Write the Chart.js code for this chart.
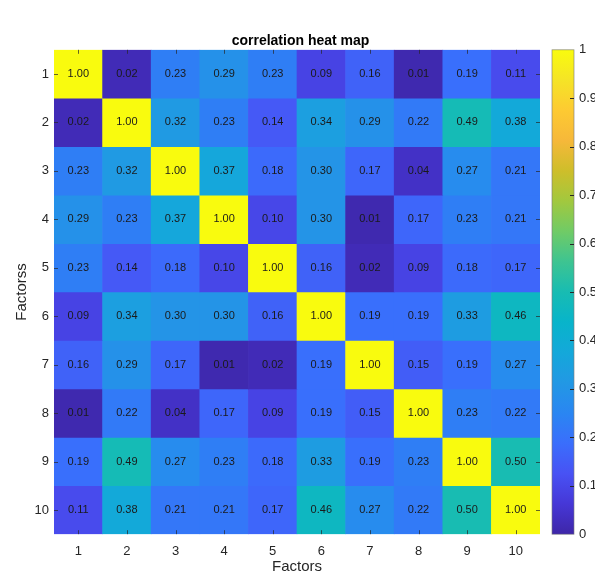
<!DOCTYPE html>
<html>
<head>
<meta charset="utf-8">
<title>correlation heat map</title>
<script src="https://cdn.jsdelivr.net/npm/chart.js@4.4.1/dist/chart.umd.min.js"></script>
<style>
  body { margin: 0; background: #fff; }
  #heat { display: block; }
</style>
</head>
<body>
<canvas id="heat" width="595" height="581"></canvas>
<script>
// factor names (both axes)
const factors = ['1', '2', '3', '4', '5', '6', '7', '8', '9', '10'];
const rowTicks = [1, 2, 3, 4, 5, 6, 7, 8, 9, 10];

// correlation values, one array per row
const row1  = [1.00, 0.02, 0.23, 0.29, 0.23, 0.09, 0.16, 0.01, 0.19, 0.11];
const row2  = [0.02, 1.00, 0.32, 0.23, 0.14, 0.34, 0.29, 0.22, 0.49, 0.38];
const row3  = [0.23, 0.32, 1.00, 0.37, 0.18, 0.30, 0.17, 0.04, 0.27, 0.21];
const row4  = [0.29, 0.23, 0.37, 1.00, 0.10, 0.30, 0.01, 0.17, 0.23, 0.21];
const row5  = [0.23, 0.14, 0.18, 0.10, 1.00, 0.16, 0.02, 0.09, 0.18, 0.17];
const row6  = [0.09, 0.34, 0.30, 0.30, 0.16, 1.00, 0.19, 0.19, 0.33, 0.46];
const row7  = [0.16, 0.29, 0.17, 0.01, 0.02, 0.19, 1.00, 0.15, 0.19, 0.27];
const row8  = [0.01, 0.22, 0.04, 0.17, 0.09, 0.19, 0.15, 1.00, 0.23, 0.22];
const row9  = [0.19, 0.49, 0.27, 0.23, 0.18, 0.33, 0.19, 0.23, 1.00, 0.50];
const row10 = [0.11, 0.38, 0.21, 0.21, 0.17, 0.46, 0.27, 0.22, 0.50, 1.00];
const rows = [row1, row2, row3, row4, row5, row6, row7, row8, row9, row10];

// colour bar range
const colorMin = 0;
const colorMax = 1;

// parula-like colour map stops
const parulaStops = [
  [0.000, [62, 38, 168]],
  [0.063, [70, 55, 215]],
  [0.125, [72, 82, 244]],
  [0.188, [58, 110, 252]],
  [0.250, [42, 134, 242]],
  [0.313, [34, 152, 228]],
  [0.375, [20, 168, 218]],
  [0.438, [8, 180, 202]],
  [0.500, [24, 188, 178]],
  [0.563, [62, 196, 145]],
  [0.625, [112, 203, 102]],
  [0.688, [162, 200, 62]],
  [0.750, [206, 190, 42]],
  [0.813, [246, 184, 58]],
  [0.875, [253, 202, 50]],
  [0.938, [245, 228, 38]],
  [1.000, [249, 251, 14]]
];

function parula(v) {
  let t = (v - colorMin) / (colorMax - colorMin);
  t = Math.max(0, Math.min(1, t));
  for (let i = 1; i < parulaStops.length; i++) {
    const a = parulaStops[i - 1], b = parulaStops[i];
    if (t <= b[0]) {
      const f = (t - a[0]) / (b[0] - a[0]);
      const c = a[1].map((x, k) => Math.round(x + (b[1][k] - x) * f));
      return 'rgb(' + c.join(',') + ')';
    }
  }
  return 'rgb(249,251,14)';
}

const axisColor = '#262626';
const fontFamily = 'Helvetica, "Liberation Sans", Arial, sans-serif';

// each row is a dataset of floating bars spanning one cell
const datasets = rows.map((vals, i) => ({
  label: 'row ' + factors[i],
  data: vals.map(() => [rowTicks[i] - 0.5, rowTicks[i] + 0.5]),
  values: vals,
  backgroundColor: vals.map(v => parula(v)),
  borderWidth: 0
}));

// cell numbers, inward tick marks and the colour bar
const heatExtras = {
  id: 'heatExtras',
  afterDatasetsDraw(chart) {
    const ctx = chart.ctx;
    const area = chart.chartArea;
    ctx.save();
    ctx.font = '11px ' + fontFamily;
    ctx.fillStyle = '#1a1a1a';
    ctx.textAlign = 'center';
    ctx.textBaseline = 'middle';
    chart.data.datasets.forEach((ds, i) => {
      const meta = chart.getDatasetMeta(i);
      meta.data.forEach((el, j) => {
        const cy = (el.y + el.base) / 2;
        ctx.fillText(ds.values[j].toFixed(2), el.x, cy);
      });
    });

    // inward tick marks on the heat map
    ctx.strokeStyle = 'rgba(38,38,38,0.7)';
    ctx.lineWidth = 1;
    const xs = chart.scales.x, ys = chart.scales.y;
    ctx.beginPath();
    xs.ticks.forEach((t, k) => {
      const px = Math.round(xs.getPixelForTick(k)) + 0.5;
      ctx.moveTo(px, area.top); ctx.lineTo(px, area.top + 4);
      ctx.moveTo(px, area.bottom); ctx.lineTo(px, area.bottom - 4);
    });
    ys.ticks.forEach(t => {
      const py = Math.round(ys.getPixelForValue(t.value)) + 0.5;
      ctx.moveTo(area.left, py); ctx.lineTo(area.left + 4, py);
      ctx.moveTo(area.right, py); ctx.lineTo(area.right - 4, py);
    });
    ctx.stroke();

    // colour bar
    const cb = chart.scales.cb;
    const x0 = area.right + 12;
    const w = 22;
    const yTop = cb.getPixelForValue(colorMax);
    const yBot = cb.getPixelForValue(colorMin);
    const grad = ctx.createLinearGradient(0, yBot, 0, yTop);
    parulaStops.forEach(s => grad.addColorStop(s[0], 'rgb(' + s[1].join(',') + ')'));
    ctx.fillStyle = grad;
    ctx.fillRect(x0, yTop, w, yBot - yTop);
    ctx.strokeStyle = 'rgba(120,120,120,0.8)';
    ctx.lineWidth = 0.75;
    ctx.strokeRect(x0, yTop, w, yBot - yTop);
    ctx.strokeStyle = axisColor;
    ctx.lineWidth = 1;
    ctx.beginPath();
    cb.ticks.forEach(t => {
      if (t.value <= colorMin || t.value >= colorMax) return;
      const py = Math.round(cb.getPixelForValue(t.value)) + 0.5;
      ctx.moveTo(x0 + w - 4, py); ctx.lineTo(x0 + w, py);
    });
    ctx.stroke();
    ctx.restore();
  }
};

new Chart(document.getElementById('heat'), {
  type: 'bar',
  data: {
    labels: factors,
    datasets: datasets
  },
  options: {
    responsive: false,
    animation: false,
    devicePixelRatio: 1,
    datasets: {
      bar: {
        grouped: false,
        categoryPercentage: 1,
        barPercentage: 1
      }
    },
    layout: {
      padding: { top: 33, left: 6, right: 0, bottom: 0 }
    },
    plugins: {
      legend: { display: false },
      tooltip: { enabled: false },
      title: {
        display: true,
        text: 'correlation heat map',
        color: '#000',
        font: { family: fontFamily, size: 14, weight: 'bold' },
        padding: { top: 0, bottom: 0 }
      }
    },
    scales: {
      x: {
        type: 'category',
        grid: { display: false, drawTicks: false },
        border: { display: false },
        ticks: {
          color: axisColor,
          padding: 9,
          font: { family: fontFamily, size: 13 }
        },
        title: {
          display: true,
          text: 'Factors',
          color: axisColor,
          font: { family: fontFamily, size: 15 },
          padding: { top: 0, bottom: 1 }
        },
        afterFit: s => { s.height = 43; }
      },
      y: {
        type: 'linear',
        reverse: true,
        min: 0.5,
        max: 10.5,
        grid: { display: false, drawTicks: false },
        border: { display: false },
        afterBuildTicks: s => { s.ticks = rowTicks.map(v => ({ value: v })); },
        ticks: {
          color: axisColor,
          padding: 5,
          font: { family: fontFamily, size: 13 },
          callback: v => String(v)
        },
        title: {
          display: true,
          text: 'Factorss',
          color: axisColor,
          font: { family: fontFamily, size: 15 },
          padding: { top: 7, bottom: 0 }
        },
        afterFit: s => { s.width = 48; }
      },
      cb: {
        type: 'linear',
        position: 'right',
        min: colorMin,
        max: colorMax,
        grid: { display: false, drawTicks: false },
        border: { display: false },
        ticks: {
          stepSize: 0.1,
          color: axisColor,
          padding: 39,
          font: { family: fontFamily, size: 13 },
          callback: v => String(Math.round(v * 10) / 10)
        },
        afterFit: s => { s.width = 55; }
      }
    }
  },
  plugins: [heatExtras]
});
</script>
</body>
</html>
